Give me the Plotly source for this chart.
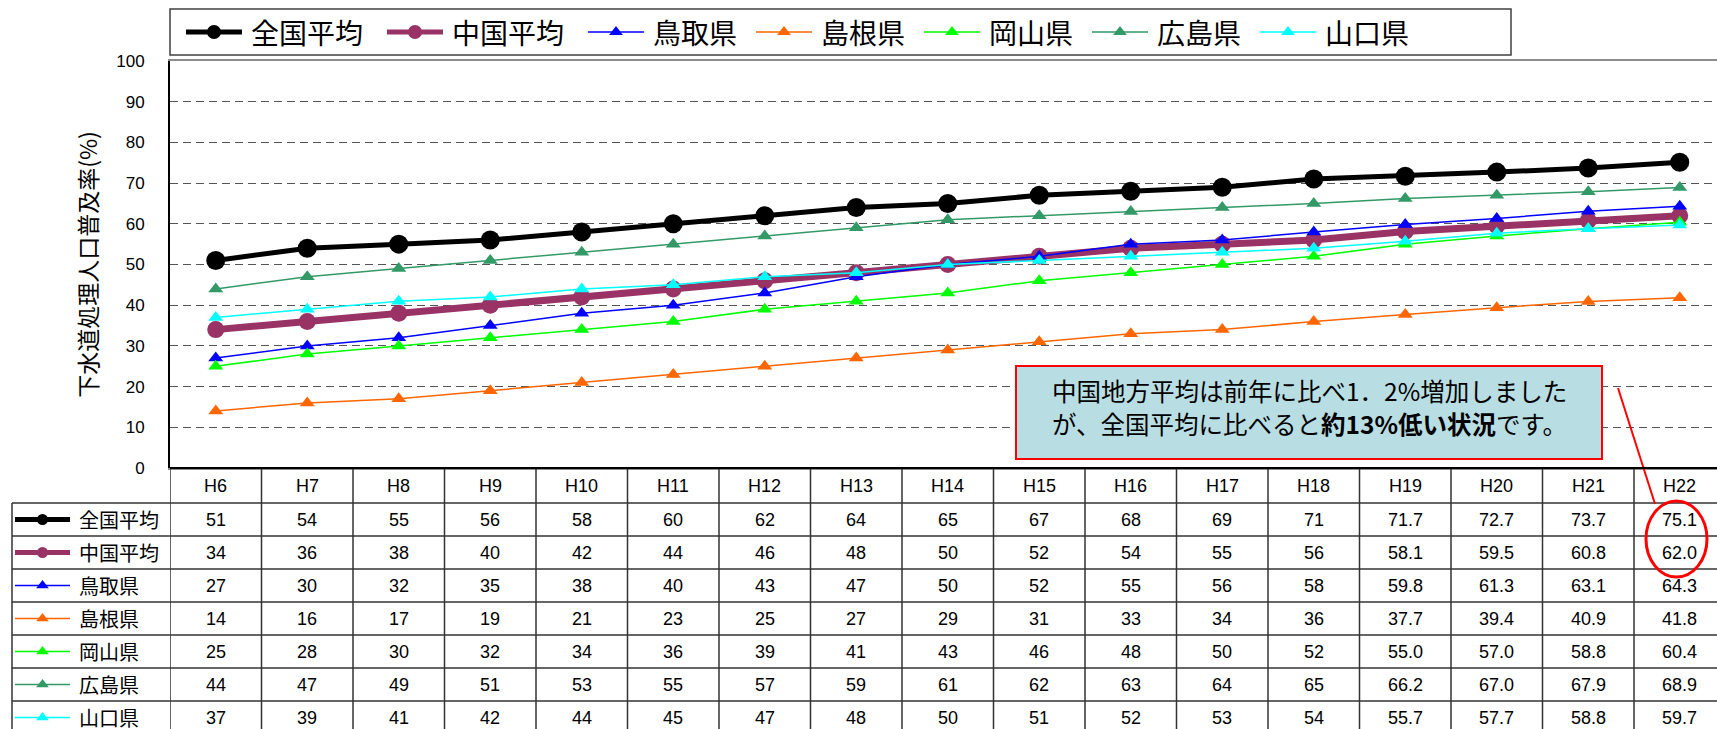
import plotly.graph_objects as go

# ---------------- data ----------------
categories = ["H6", "H7", "H8", "H9", "H10", "H11", "H12", "H13", "H14",
              "H15", "H16", "H17", "H18", "H19", "H20", "H21", "H22"]
national = [51, 54, 55, 56, 58, 60, 62, 64, 65, 67, 68, 69, 71, 71.7, 72.7, 73.7, 75.1]
chugoku = [34, 36, 38, 40, 42, 44, 46, 48, 50, 52, 54, 55, 56, 58.1, 59.5, 60.8, 62.0]
tottori = [27, 30, 32, 35, 38, 40, 43, 47, 50, 52, 55, 56, 58, 59.8, 61.3, 63.1, 64.3]
shimane = [14, 16, 17, 19, 21, 23, 25, 27, 29, 31, 33, 34, 36, 37.7, 39.4, 40.9, 41.8]
okayama = [25, 28, 30, 32, 34, 36, 39, 41, 43, 46, 48, 50, 52, 55.0, 57.0, 58.8, 60.4]
hiroshima = [44, 47, 49, 51, 53, 55, 57, 59, 61, 62, 63, 64, 65, 66.2, 67.0, 67.9, 68.9]
yamaguchi = [37, 39, 41, 42, 44, 45, 47, 48, 50, 51, 52, 53, 54, 55.7, 57.7, 58.8, 59.7]
series_names = ["全国平均", "中国平均", "鳥取県", "島根県", "岡山県", "広島県", "山口県"]
series_values = [national, chugoku, tottori, shimane, okayama, hiroshima, yamaguchi]
y_tick_values = [0, 10, 20, 30, 40, 50, 60, 70, 80, 90, 100]
decimal_from = "H19"   # from this year on the table shows one decimal
y_title = "下水道処理人口普及率(%)"
note_line1 = "中国地方平均は前年に比べ1．2%増加しました"
note_line2_a = "が、全国平均に比べると"
note_line2_b = "約13%低い状況"
note_line2_c = "です。"

# ---------------- layout constants (pixels) ----------------
W, H = 1717, 729
PLOT_L, PLOT_T, PLOT_B = 170, 61, 468
COLW = 91.5
HEAD_H = 35
ROW_H = 33
LABEL_L = 12
JP = "Noto Sans CJK JP"
NUM = "Liberation Sans, Arial, Noto Sans CJK JP"

styles = [
    dict(color="#000000", width=5, symbol="circle", size=19, ksize=14, tsize=11),
    dict(color="#993366", width=7, symbol="circle", size=17, ksize=14, tsize=11),
    dict(color="#0000FF", width=1.5, symbol="triangle-up", size=13, ksize=12, tsize=11),
    dict(color="#FF6600", width=1.5, symbol="triangle-up", size=13, ksize=12, tsize=11),
    dict(color="#00FF00", width=1.5, symbol="triangle-up", size=13, ksize=12, tsize=11),
    dict(color="#339966", width=1.5, symbol="triangle-up", size=13, ksize=12, tsize=11),
    dict(color="#00FFFF", width=1.5, symbol="triangle-up", size=13, ksize=12, tsize=11),
]

fig = go.Figure()

# main series
for name, vals, st in zip(series_names, series_values, styles):
    fig.add_trace(go.Scatter(
        x=categories, y=vals, name=name, mode="lines+markers",
        line=dict(color=st["color"], width=st["width"]),
        marker=dict(symbol=st["symbol"], size=st["size"], color=st["color"],
                    line=dict(width=0)),
        xaxis="x", yaxis="y", showlegend=False, hoverinfo="x+y+name"))

# ---------------- legend (top) and table row keys ----------------
annotations = []
shapes = []
LEG_Y = 32
start = 186
for i, (name, st) in enumerate(zip(series_names, styles)):
    row_c = PLOT_B + HEAD_H + ROW_H * i + ROW_H / 2
    kx = [start, start + 28, start + 56, None, 15, 42.5, 70]
    ky = [LEG_Y, LEG_Y, LEG_Y, None, row_c, row_c, row_c]
    sz = [0, st["ksize"], 0, 0, 0, st["tsize"], 0]
    op = [0, 1, 0, 0, 0, 1, 0]
    kw = 5 if st["width"] > 3 else 1.5
    fig.add_trace(go.Scatter(
        x=kx, y=ky, mode="lines+markers", xaxis="x2", yaxis="y2",
        line=dict(color=st["color"], width=kw),
        marker=dict(symbol=st["symbol"], size=sz, opacity=op, color=st["color"],
                    line=dict(width=0)),
        showlegend=False, hoverinfo="skip", connectgaps=False))
    annotations.append(dict(
        x=start + 63, y=LEG_Y, xref="x2", yref="y2", text=name, showarrow=False,
        xanchor="left", yanchor="middle", font=dict(family=JP, size=28, color="black")))
    annotations.append(dict(
        x=77, y=row_c, xref="x2", yref="y2", text=name, showarrow=False,
        xanchor="left", yanchor="middle", font=dict(family=JP, size=20, color="black")))
    start += 69 + 33 * len(name)

# legend box
shapes.append(dict(type="rect", xref="x2", yref="y2", x0=170, x1=1511, y0=9, y1=55,
                   line=dict(color="#404040", width=1.5), fillcolor="rgba(0,0,0,0)"))

# ---------------- table ----------------
n_rows = len(series_names)
dec_idx = categories.index(decimal_from)
LINE_C = "#333333"
# vertical lines at category boundaries
for k in range(len(categories) + 1):
    shapes.append(dict(type="line", xref="x", yref="y2", x0=k - 0.5, x1=k - 0.5,
                       y0=PLOT_B, y1=H + 5, line=dict(color=LINE_C, width=1.5)))
# label column left border
shapes.append(dict(type="line", xref="x2", yref="y2", x0=LABEL_L, x1=LABEL_L,
                   y0=PLOT_B + HEAD_H, y1=H + 5, line=dict(color=LINE_C, width=1.5)))
# horizontal lines
for r in range(n_rows):
    yy = PLOT_B + HEAD_H + ROW_H * r
    shapes.append(dict(type="line", xref="x2", yref="y2", x0=LABEL_L, x1=W + 10,
                       y0=yy, y1=yy, line=dict(color=LINE_C, width=1.5)))
# header text
for c in categories:
    annotations.append(dict(x=c, y=PLOT_B + HEAD_H / 2, xref="x", yref="y2", text=c,
                            showarrow=False, font=dict(family=NUM, size=18, color="black")))
# data cells
for r, vals in enumerate(series_values):
    row_c = PLOT_B + HEAD_H + ROW_H * r + ROW_H / 2
    for j, (c, v) in enumerate(zip(categories, vals)):
        txt = f"{v:.1f}" if j >= dec_idx else f"{v:g}"
        annotations.append(dict(x=c, y=row_c, xref="x", yref="y2", text=txt,
                                showarrow=False,
                                font=dict(family=NUM, size=18, color="black")))

# ---------------- note box ----------------
shapes.append(dict(type="rect", xref="x2", yref="y2", x0=1016, x1=1602, y0=366, y1=459,
                   line=dict(color="#FF0000", width=2), fillcolor="#B8DEE3"))
annotations.append(dict(
    x=1309, y=390, xref="x2", yref="y2", showarrow=False, text=note_line1,
    xanchor="center", yanchor="middle", font=dict(family=JP, size=24.5, color="black")))
annotations.append(dict(
    x=1309, y=423, xref="x2", yref="y2", showarrow=False,
    text=note_line2_a + "<b>" + note_line2_b + "</b>" + note_line2_c,
    xanchor="center", yanchor="middle", font=dict(family=JP, size=24.5, color="black")))
# connector and highlight ellipse
shapes.append(dict(type="line", xref="x2", yref="y2", x0=1618, y0=388, x1=1655, y1=504,
                   line=dict(color="#FF0000", width=2)))
shapes.append(dict(type="circle", xref="x2", yref="y2", x0=1646, x1=1707, y0=501, y1=577,
                   line=dict(color="#FF0000", width=3), fillcolor="rgba(0,0,0,0)"))

x_end = -0.5 + (W - PLOT_L) / COLW

fig.update_layout(
    width=W, height=H, autosize=False,
    margin=dict(l=0, r=0, t=0, b=0, pad=0),
    paper_bgcolor="white", plot_bgcolor="rgba(0,0,0,0)",
    showlegend=False,
    xaxis=dict(domain=[PLOT_L / W, 1], range=[-0.5, x_end], type="category",
               categoryorder="array", categoryarray=categories,
               showticklabels=False, ticks="", showgrid=False, zeroline=False,
               showline=True, mirror=True, linecolor="#8c8c8c", linewidth=2,
               anchor="y", fixedrange=True),
    yaxis=dict(domain=[(H - PLOT_B) / H, (H - PLOT_T) / H], range=[0, 100],
               tickvals=y_tick_values, ticks="", ticklabelstandoff=20,
               tickfont=dict(family=NUM, size=17, color="black"),
               showgrid=True, gridcolor="#555555", gridwidth=1, griddash="8px,5px",
               zeroline=False, showline=True, linecolor="#000000", linewidth=2,
               title=dict(text=y_title, standoff=12,
                          font=dict(family=JP, size=23, color="black")),
               automargin=False, anchor="x", fixedrange=True),
    xaxis2=dict(domain=[0, 1], range=[0, W], visible=False, anchor="y2", fixedrange=True),
    yaxis2=dict(domain=[0, 1], range=[H, 0], visible=False, anchor="x2", fixedrange=True),
    shapes=shapes + [dict(type="line", xref="x2", yref="y2", x0=PLOT_L, x1=W + 10,
                          y0=PLOT_B, y1=PLOT_B, line=dict(color="#000000", width=2))],
    annotations=annotations,
)

fig.write_html("out.html",
               config={"displayModeBar": False},
               post_script="document.body.style.margin='0px';"
                           "document.body.style.overflow='hidden';")
